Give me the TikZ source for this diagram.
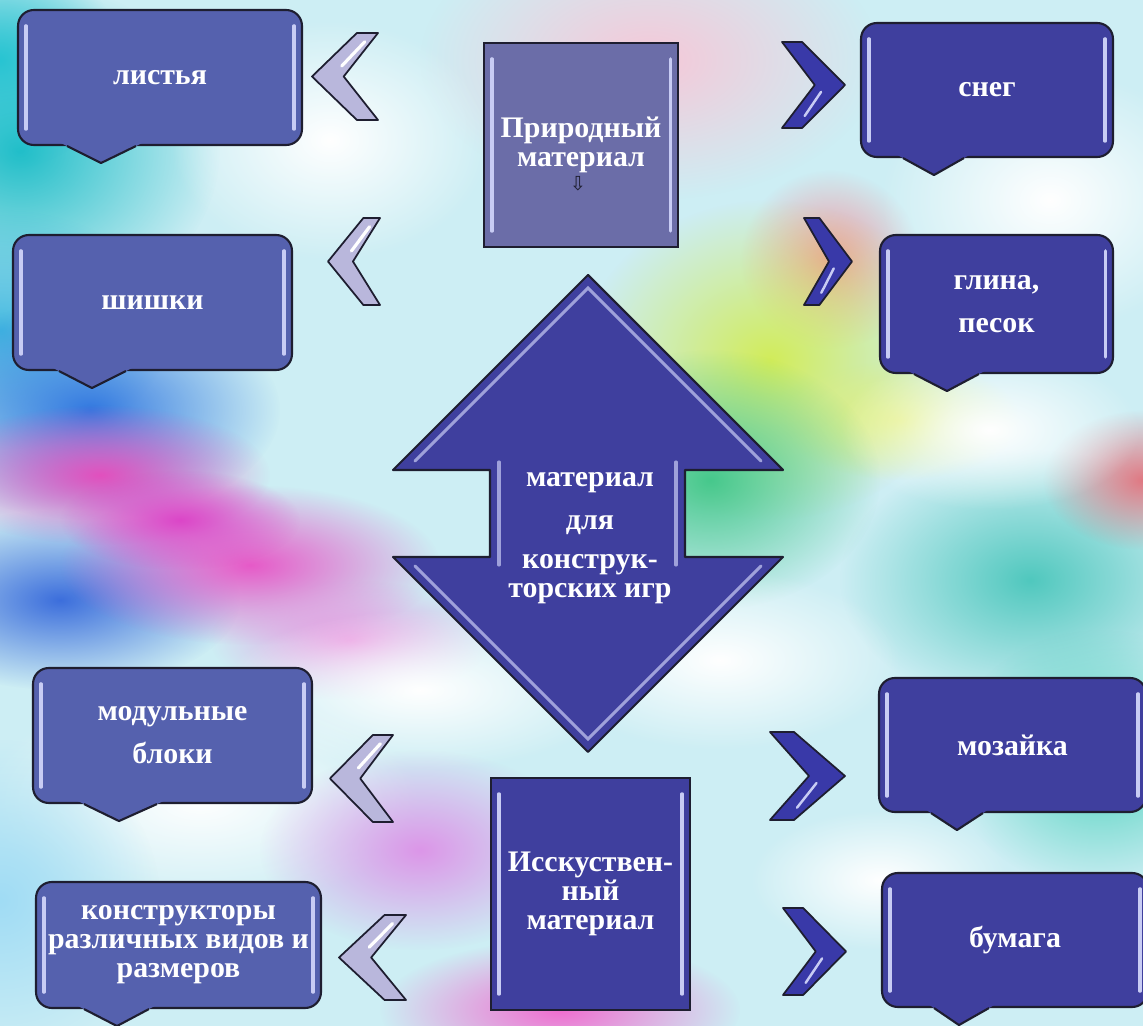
\documentclass[tikz,border=0pt]{standalone}
\usepackage{fontspec}
\setmainfont{Liberation Serif}
\newfontfamily\symfont{DejaVu Sans}
\usetikzlibrary{calc,fadings}

\definecolor{navy}{HTML}{3F3F9E}
\definecolor{bluebox}{HTML}{5561AE}
\definecolor{greybox}{HTML}{6B6DA8}
\definecolor{lilac}{HTML}{B9B7DC}
\definecolor{edge}{HTML}{1E1E30}
\definecolor{shine}{HTML}{C8CCF4}
\definecolor{sky}{HTML}{CDEEF4}
\tikzfading[name=soft, inner color=transparent!0, outer color=transparent!100]

\begin{document}
\begin{tikzpicture}[x=0.02cm,y=-0.02cm,
   word/.style={text=white, align=center, font=\fontsize{17}{16.5}\selectfont\bfseries},
   box/.style={word, draw=edge, line width=1.2pt, fill=navy, rounded corners=9pt, inner sep=0pt,
     path picture={
       \draw[shine, line width=1.8pt, line cap=round] ([shift={(4.5pt,-9pt)}]path picture bounding box.north west) -- ([shift={(4.5pt,9pt)}]path picture bounding box.south west);
       \draw[shine, line width=1.8pt, line cap=round] ([shift={(-4.5pt,-9pt)}]path picture bounding box.north east) -- ([shift={(-4.5pt,9pt)}]path picture bounding box.south east);}},
   tile/.style={box, sharp corners},
   chevL/.style={draw=edge, line width=1pt, line join=round, fill=lilac},
   chevR/.style={draw=edge, line width=1pt, line join=round, fill=navy!90!blue},
   blob/.style={path fading=soft}]

 \useasboundingbox (0,0) rectangle (1143,1026);
 \clip (0,0) rectangle (1143,1026);

 % sky with coloured clouds
 \fill[sky] (0,0) rectangle (1143,1026);
 \fill[blob, color={rgb,255:red,32;green,190;blue,200}] (20,150) ellipse (200 and 170);
 \fill[blob, color={rgb,255:red,40;green,196;blue,210}] (0,60) ellipse (120 and 110);
 \fill[blob, color={rgb,255:red,64;green,184;blue,224}] (0,330) ellipse (170 and 120);
 \fill[blob, color={rgb,255:red,50;green,120;blue,224}] (90,410) ellipse (190 and 110);
 \fill[blob, color={rgb,255:red,60;green,110;blue,220}] (60,600) ellipse (180 and 90);
 \fill[blob, color={rgb,255:red,226;green,80;blue,190}] (100,475) ellipse (170 and 70);
 \fill[blob, color={rgb,255:red,230;green,90;blue,200}] (250,565) ellipse (190 and 80);
 \fill[blob, color={rgb,255:red,220;green,70;blue,200}] (180,520) ellipse (120 and 50);
 \fill[blob, color={rgb,255:red,232;green,150;blue,224}] (350,640) ellipse (140 and 60);
 \fill[blob, color={rgb,255:red,246;green,200;blue,216}] (650,60) ellipse (230 and 140);
 \fill[blob, color={rgb,255:red,240;green,150;blue,160}] (830,260) ellipse (90 and 90);
 \fill[blob, color=white] (1050,200) ellipse (170 and 130);
 \fill[blob, color=white] (330,140) ellipse (160 and 120);
 \fill[blob, color={rgb,255:red,210;green,236;blue,90}] (770,360) ellipse (190 and 160);
 \fill[blob, color={rgb,255:red,225;green,240;blue,120}] (900,420) ellipse (120 and 60);
 \fill[blob, color={rgb,255:red,70;green,200;blue,140}] (710,480) ellipse (170 and 130);
 \fill[blob, color={rgb,255:red,80;green,200;blue,190}] (1030,580) ellipse (190 and 130);
 \fill[blob, color={rgb,255:red,224;green,120;blue,130}] (1143,480) ellipse (100 and 70);
 \fill[blob, color=white] (990,430) ellipse (150 and 80);
 \fill[blob, color=white] (420,690) ellipse (200 and 80);
 \fill[blob, color=white] (720,660) ellipse (180 and 90);
 \fill[blob, color=white] (200,800) ellipse (220 and 110);
 \fill[blob, color=white] (880,880) ellipse (130 and 70);
 \fill[blob, color={rgb,255:red,220;green,150;blue,232}] (420,850) ellipse (160 and 100);
 \fill[blob, color={rgb,255:red,240;green,110;blue,208}] (560,1010) ellipse (180 and 70);
 \fill[blob, color={rgb,255:red,80;green,210;blue,190}] (1100,760) ellipse (150 and 130);
 \fill[blob, color={rgb,255:red,160;green,220;blue,244}] (0,900) ellipse (160 and 160);

 % chevrons
 \foreach \x/\y/\w/\h in {312/33/66/87, 328/218/52/87, 330/735/63/87, 339/915/67/85}{
   \draw[chevL, shift={(\x,\y)}] (0,\h/2) -- ({0.68*\w},0) -- (\w,0) -- ({0.48*\w},\h/2) -- (\w,\h) -- ({0.68*\w},\h) -- cycle;
   \draw[white, line width=1.8pt, line cap=round, shift={(\x,\y)}] ({0.8*\w},{0.1*\h}) -- ({0.45*\w},{0.38*\h});
 }
 \foreach \x/\y/\w/\h in {782/42/63/86, 804/218/48/87, 770/732/75/88, 783/908/63/87}{
   \draw[chevR, shift={(\x,\y)}] (0,0) -- ({0.32*\w},0) -- (\w,\h/2) -- ({0.32*\w},\h) -- (0,\h) -- ({0.52*\w},\h/2) -- cycle;
   \draw[shine, line width=1.4pt, line cap=round, shift={(\x,\y)}] ({0.62*\w},{0.58*\h}) -- ({0.36*\w},{0.86*\h});
 }

 % big double arrow
 \draw[edge, line width=1.2pt, line join=round, fill=navy] (588,275) -- (783,470) -- (685,470) -- (685,557) -- (783,557) -- (588,752) -- (393,557) -- (490,557) -- (490,470) -- (393,470) -- cycle;
 \draw[shine, opacity=0.7, line width=1.8pt, line cap=round] (415,461) -- (588,288) -- (761,461);
 \draw[shine, opacity=0.7, line width=1.8pt, line cap=round] (499,462) -- (499,565) (676,462) -- (676,565);
 \draw[shine, opacity=0.7, line width=1.8pt, line cap=round] (415,566) -- (588,739) -- (761,566);
 \node[word] (core) at (590,538) {материал\\[8pt]для\\[6pt]конструк-\\торских игр};

 % boxes
 \node[tile, fill=greybox, minimum width=3.88cm, minimum height=4.08cm] (natural) at (581,145) {Природный\\материал};
 \node[text=edge, font=\symfont\fontsize{11}{11}\selectfont] (mark) at (578,184) {⇩};
 \node[tile, minimum width=3.98cm, minimum height=4.64cm] (artificial) at (590.5,894) {Исскуствен-\\ный\\материал};

 \node[box, fill=bluebox, minimum width=5.68cm, minimum height=2.7cm] (leaves) at (160,77.5) {листья};
 \node[box, fill=bluebox, minimum width=5.58cm, minimum height=2.7cm] (cones) at (152.5,302.5) {шишки};
 \node[box, fill=bluebox, minimum width=5.58cm, minimum height=2.7cm] (blocks) at (172.5,735.5) {модульные\\[8pt]блоки};
 \node[box, fill=bluebox, minimum width=5.7cm, minimum height=2.52cm] (kits) at (178.5,945) {конструкторы\\различных видов и\\размеров};
 \node[box, minimum width=5.04cm, minimum height=2.68cm] (snow) at (987,90) {снег};
 \node[box, minimum width=4.66cm, minimum height=2.76cm] (clay) at (996.5,304) {глина,\\[8pt]песок};
 \node[box, minimum width=5.34cm, minimum height=2.68cm] (mosaic) at (1012.5,745) {мозайка};
 \node[box, minimum width=5.32cm, minimum height=2.68cm] (paper) at (1015,940) {бумага};

 % pointers under the boxes
 \foreach \n/\a/\t/\b/\c in {leaves/50/84/119/bluebox, cones/47/80/114/bluebox, blocks/52/87/125/bluebox, kits/49/82/114/bluebox,
                             snow/43/74/104/navy, clay/35/68/100/navy, mosaic/53/79/105/navy, paper/53/78/108/navy}{
   \fill[\c] ($(\n.south west)+({\a-(\t-\a)*4/17},-4)$) -- ($(\n.south west)+(\t,17)$) -- ($(\n.south west)+({\b+(\b-\t)*4/17},-4)$) -- cycle;
   \draw[edge, line width=1.2pt, line join=round] ($(\n.south west)+(\a,0)$) -- ($(\n.south west)+(\t,17)$) -- ($(\n.south west)+(\b,0)$);
 }
\end{tikzpicture}
\end{document}
